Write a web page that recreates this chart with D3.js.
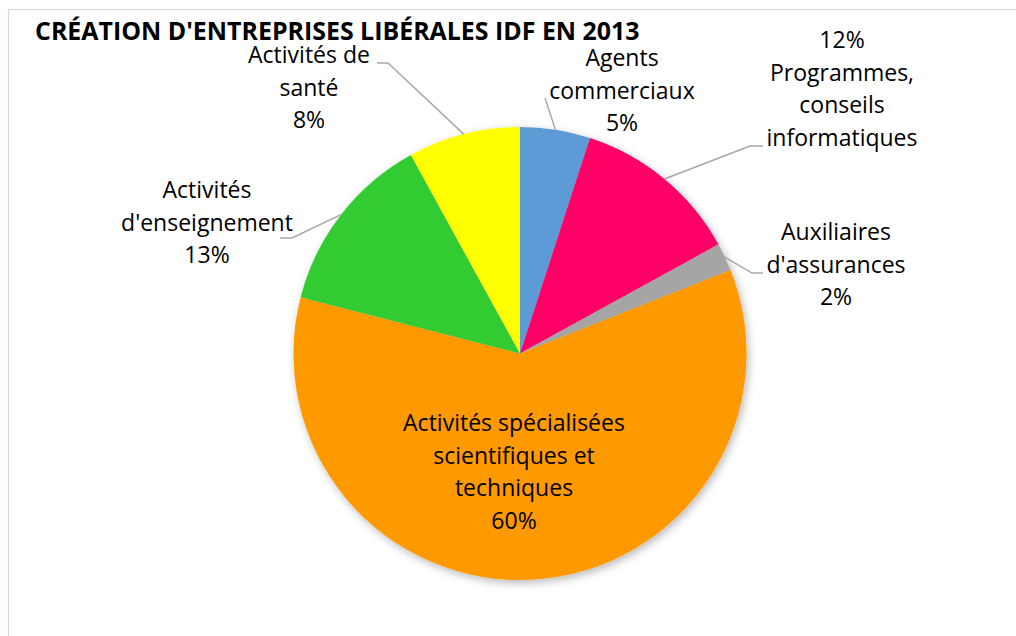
<!DOCTYPE html>
<html><head><meta charset="utf-8">
<script src="https://cdn.jsdelivr.net/npm/d3@7"></script>
<style>html,body{margin:0;padding:0;background:#fff;}svg{display:block;}</style>
</head><body>
<svg id="chart" width="1016" height="636"></svg>
<script>
// ---- data ----
const categories = [
  "Agents commerciaux",
  "Programmes, conseils informatiques",
  "Auxiliaires d'assurances",
  "Activités spécialisées scientifiques et techniques",
  "Activités d'enseignement",
  "Activités de santé"
];
const values = [5, 12, 2, 60, 13, 8];
const percentLabels = ["5%", "12%", "2%", "60%", "13%", "8%"];
const labelLines = [
  ["Agents", "commerciaux", "5%"],
  ["12%", "Programmes,", "conseils", "informatiques"],
  ["Auxiliaires", "d'assurances", "2%"],
  ["Activités spécialisées", "scientifiques et", "techniques", "60%"],
  ["Activités", "d'enseignement", "13%"],
  ["Activités de", "santé", "8%"]
];
const colors = ["#5B9BD5", "#FF0066", "#A5A5A5", "#FF9900", "#33CC33", "#FFFF00"];
const title = "CRÉATION D'ENTREPRISES LIBÉRALES IDF EN 2013";

// ---- layout ----
const W = 1016, H = 636;
const cx = 520, cy = 353.5, R = 226.5;
const lineH = 32.6;
// label anchor (center x, first line center y) and leader elbow/end points
const labelLayout = [
  {x: 622, y: 58,  leader: [[545, 98]]},
  {x: 842, y: 40,  leader: [[750, 146], [763, 146]]},
  {x: 836, y: 232, leader: [[752, 273], [763, 273]]},
  {x: 514, y: 423, leader: null},
  {x: 207, y: 190, leader: [[292, 238], [280, 238]]},
  {x: 309, y: 55,  leader: [[388, 63], [377, 63]]}
];

const svg = d3.select("#chart");
const FONT = "'Open Sans', 'Noto Sans', sans-serif";

// border
svg.append("path")
  .attr("d", `M8.5,${H+2} L8.5,9.5 L${W+2},9.5`)
  .attr("fill", "none").attr("stroke", "#D9D9D9").attr("stroke-width", 1.2);

// shadow filter
const defs = svg.append("defs");
const f = defs.append("filter").attr("id", "shadow")
  .attr("x", "-10%").attr("y", "-10%").attr("width", "120%").attr("height", "120%");
f.append("feDropShadow").attr("dx", 2).attr("dy", 3).attr("stdDeviation", 4)
  .attr("flood-color", "#000").attr("flood-opacity", 0.28);

const pie = d3.pie().sort(null).value(d => d)
  .startAngle(0).endAngle(2 * Math.PI);
const arcs = pie(values);
const arc = d3.arc().innerRadius(0).outerRadius(R);

const g = svg.append("g").attr("transform", `translate(${cx},${cy})`);
const sg = g.append("g").attr("filter", "url(#shadow)");
sg.selectAll("path").data(arcs).enter().append("path")
  .attr("d", arc)
  .attr("fill", (d, i) => colors[i]);

// leader lines
arcs.forEach((a, i) => {
  const L = labelLayout[i];
  if (!L.leader) return;
  const mid = (a.startAngle + a.endAngle) / 2;
  const p0 = [cx + R * Math.sin(mid), cy - R * Math.cos(mid)];
  const pts = [p0].concat(L.leader);
  svg.append("path")
    .attr("d", d3.line()(pts))
    .attr("fill", "none")
    .attr("stroke", "#A6A6A6")
    .attr("stroke-width", 1.4);
});

// labels
labelLines.forEach((lines, i) => {
  const L = labelLayout[i];
  const t = svg.append("text")
    .attr("text-anchor", "middle")
    .attr("font-family", FONT)
    .attr("font-size", 23)
    .attr("fill", "#000");
  lines.forEach((ln, j) => {
    t.append("tspan")
      .attr("x", L.x)
      .attr("y", L.y + j * lineH)
      .attr("dy", "0.35em")
      .text(ln);
  });
});

// title
const tt = svg.append("text")
  .attr("x", 35).attr("y", 40)
  .attr("font-family", FONT)
  .attr("font-weight", "bold")
  .attr("font-size", 22)
  .attr("fill", "#000")
  .text(title);
const tw = tt.node().getComputedTextLength();
tt.attr("font-size", 22 * 605 / tw);
</script>
</body></html>
